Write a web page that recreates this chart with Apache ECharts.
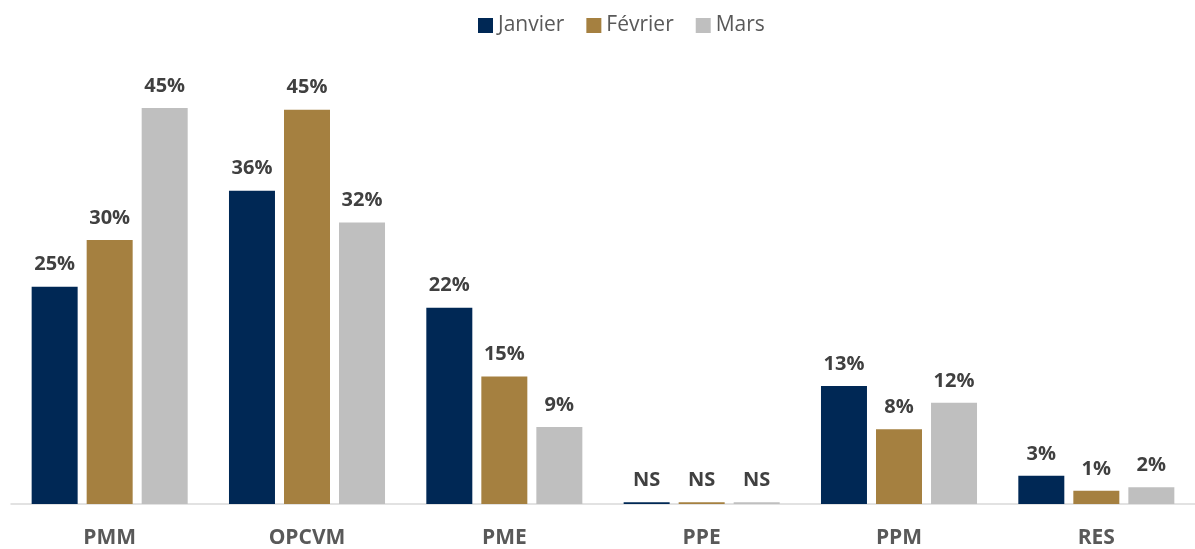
<!DOCTYPE html>
<html>
<head>
<meta charset="utf-8">
<script src="https://cdn.jsdelivr.net/npm/echarts@6/dist/echarts.min.js"></script>
<style>
  html, body { margin: 0; padding: 0; background: #ffffff; }
  #chart { width: 1195px; height: 549px; }
</style>
</head>
<body>
<div id="chart"></div>
<script>
const categories = ['PMM', 'OPCVM', 'PME', 'PPE', 'PPM', 'RES'];
const seriesNames = ['Janvier', 'Février', 'Mars'];
const colors = ['#002855', '#a58040', '#bfbfbf'];

// bar heights (percent)
const janvier = [24.7, 35.6, 22.3, 0.2, 13.4, 3.2];
const fevrier = [30.0, 44.8, 14.5, 0.2, 8.5, 1.5];
const mars = [45.0, 32.0, 8.75, 0.2, 11.5, 1.9];

// labels printed above the bars
const janvierLabels = ['25%', '36%', '22%', 'NS', '13%', '3%'];
const fevrierLabels = ['30%', '45%', '15%', 'NS', '8%', '1%'];
const marsLabels = ['45%', '32%', '9%', 'NS', '12%', '2%'];

const values = [janvier, fevrier, mars];
const labels = [janvierLabels, fevrierLabels, marsLabels];

const chart = echarts.init(document.getElementById('chart'));

const option = {
    backgroundColor: '#ffffff',
    animation: false,
    legend: {
        top: 10,
        left: 473,
        itemWidth: 15,
        itemHeight: 15,
        itemGap: 22,
        icon: 'rect',
        textStyle: {
            fontFamily: 'Open Sans',
            fontSize: 21,
            color: '#595959'
        },
        data: seriesNames
    },
    grid: {
        left: 11,
        right: -5,
        top: 64,
        bottom: 45,
        containLabel: false
    },
    xAxis: {
        type: 'category',
        data: categories,
        axisLine: { lineStyle: { color: '#d9d9d9', width: 1.5 } },
        axisTick: { show: false },
        axisLabel: {
            fontFamily: 'Open Sans',
            fontWeight: 'bold',
            fontSize: 21,
            color: '#595959',
            margin: 24
        }
    },
    yAxis: {
        type: 'value',
        min: 0,
        max: 50,
        show: false,
        splitLine: { show: false }
    },
    series: seriesNames.map((name, i) => ({
        name: name,
        type: 'bar',
        data: values[i],
        barWidth: 46,
        barGap: '19.6%',
        itemStyle: { color: colors[i] },
        label: {
            show: true,
            position: 'top',
            distance: 12,
            fontFamily: 'Open Sans',
            fontWeight: 'bold',
            fontSize: 20,
            color: '#404040',
            formatter: (p) => labels[i][p.dataIndex]
        }
    }))
};

chart.setOption(option);
</script>
</body>
</html>
